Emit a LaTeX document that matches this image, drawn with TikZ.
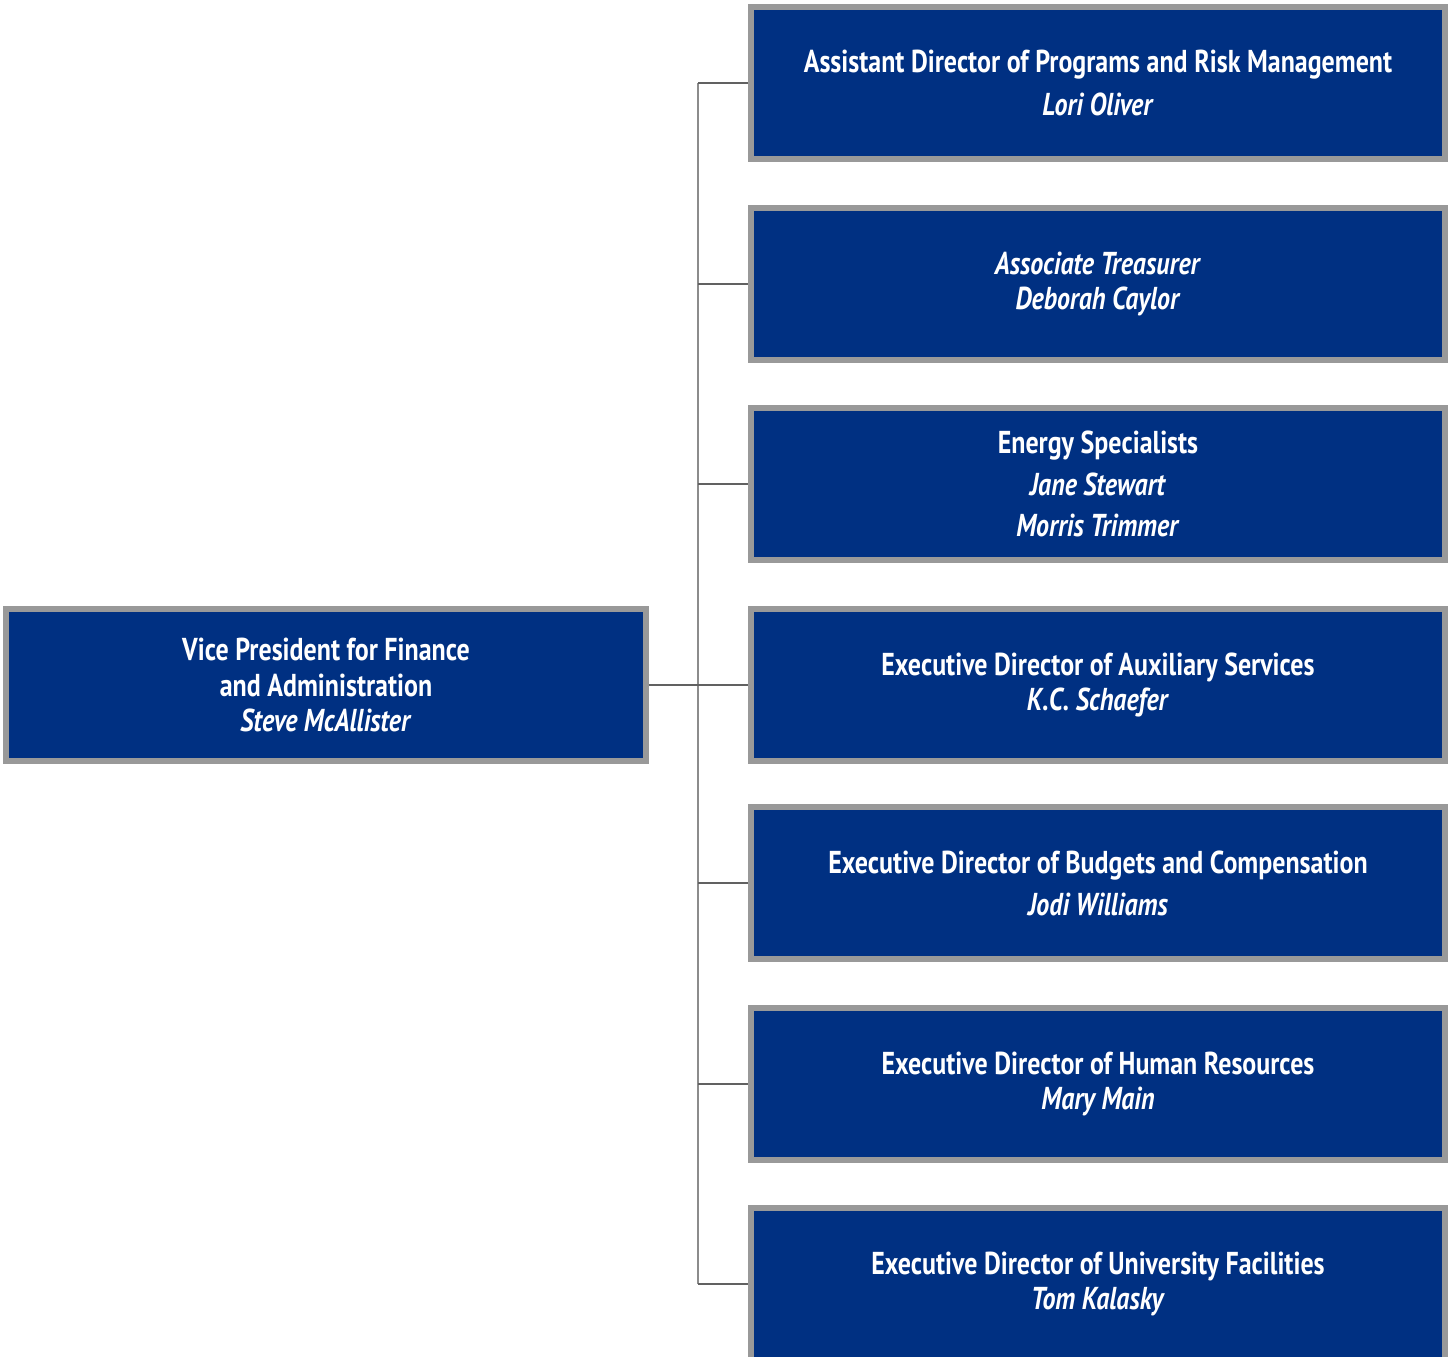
\documentclass[tikz,border=0pt]{standalone}
\usepackage{fontspec}
\setmainfont[FakeStretch=0.82]{PT Sans}
\definecolor{navy}{RGB}{0,48,130}
\definecolor{rim}{RGB}{153,153,153}
\begin{document}
\begin{tikzpicture}[x=0.01cm,y=-0.01cm,
  post/.style={draw=rim,fill=navy,line width=0.06cm,minimum width=6.94cm,minimum height=1.51cm,
    text=white,align=center,font=\bfseries\fontsize{9}{10.2}\selectfont},
  link/.style={draw=black!62,line width=0.02cm},
  trunkline/.style={draw=black!45,line width=0.02cm}]
\useasboundingbox (0,0) rectangle (1455,1356);
\node[post] (aprm) at (1098,83) {Assistant Director of Programs and Risk Management\\[0.07cm]\textit{Lori Oliver}};
\node[post] (treas) at (1098,284) {\textit{Associate Treasurer}\\\textit{Deborah Caylor}};
\node[post] (energy) at (1098,484) {Energy Specialists\\[0.06cm]\textit{Jane Stewart}\\[0.06cm]\textit{Morris Trimmer}};
\node[post] (aux) at (1098,685) {Executive Director of Auxiliary Services\\\textit{K.C. Schaefer}};
\node[post] (budget) at (1098,883) {Executive Director of Budgets and Compensation\\[0.06cm]\textit{Jodi Williams}};
\node[post] (hr) at (1098,1084) {Executive Director of Human Resources\\\textit{Mary Main}};
\node[post] (fac) at (1098,1284) {Executive Director of University Facilities\\\textit{Tom Kalasky}};
\node[post,minimum width=6.39cm] (vp) at (326,685) {Vice President for Finance\\and Administration\\\textit{Steve McAllister}};
\coordinate (trunk) at (698,0);
% trunk and branches
\draw[trunkline] (aprm.west -| trunk) -- (fac.west -| trunk);
\draw[link] (vp.east) -- (aux.west);
\foreach \n in {aprm,treas,energy,budget,hr,fac}
  \draw[link] (\n.west) -- (\n.west -| trunk);
\end{tikzpicture}
\end{document}
